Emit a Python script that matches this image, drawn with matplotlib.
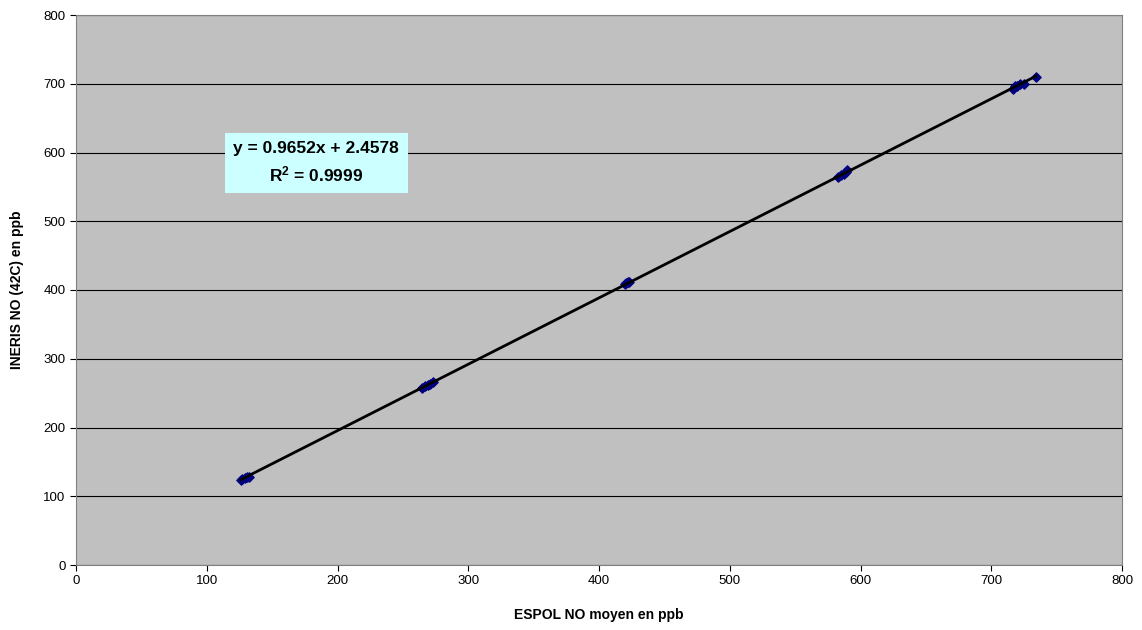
import numpy as np
import matplotlib
matplotlib.use("Agg")
import matplotlib.pyplot as plt

plt.rcParams['font.family'] = ['Liberation Sans', 'DejaVu Sans']
plt.rcParams['mathtext.fontset'] = 'custom'
plt.rcParams['mathtext.rm'] = 'Liberation Sans'
plt.rcParams['mathtext.bf'] = 'Liberation Sans:bold'

# ESPOL NO moyen (x) vs INERIS NO 42C (y), ppb
espol = [126, 127, 129, 131, 132,
         265, 267, 269, 271, 273,
         420, 421, 422, 423,
         583, 585, 587, 589, 590,
         717, 718, 720, 722, 725, 734]
ineris = [124, 125, 127, 128, 128,
          258, 260, 262, 264, 266,
          409, 410, 411, 412,
          565, 567, 569, 571, 575,
          692, 697, 697, 699, 700, 710]

slope, intercept = 0.9652, 2.4578

fig = plt.figure(figsize=(11.42, 6.30), dpi=100)
ax = fig.add_axes([76/1142, 1 - 565/630, (1122-76)/1142, (565-15)/630])
ax.set_facecolor('#C0C0C0')

ax.scatter(espol, ineris, marker='D', s=22, color='#000080', zorder=3)
xl = np.array([min(espol), max(espol)])
ax.plot(xl, slope*xl + intercept, color='black', lw=2, zorder=4)

ax.set_xlim(0, 800)
ax.set_ylim(0, 800)
ax.set_xticks(range(0, 801, 100))
ax.set_yticks(range(0, 801, 100))
ax.yaxis.grid(True, color='black', lw=0.8)
ax.set_axisbelow(True)
for s in ax.spines.values():
    s.set_color('#808080')
ax.tick_params(labelsize=9.5, length=4, color='black')

ax.set_xlabel('ESPOL NO moyen en ppb', fontsize=10, fontweight='bold', labelpad=15)
ax.set_ylabel('INERIS NO (42C) en ppb', fontsize=10, fontweight='bold', labelpad=14)

ax.text(183.6, 584.7, 'y = 0.9652x + 2.4578\n$\\mathbf{R^{2}}$ = 0.9999', ha='center', va='center',
        fontsize=12.5, fontweight='bold', linespacing=1.5, zorder=5,
        bbox=dict(boxstyle='square,pad=0.5', fc='#CCFFFF', ec='none'))

fig.savefig('out.png', dpi=100)
